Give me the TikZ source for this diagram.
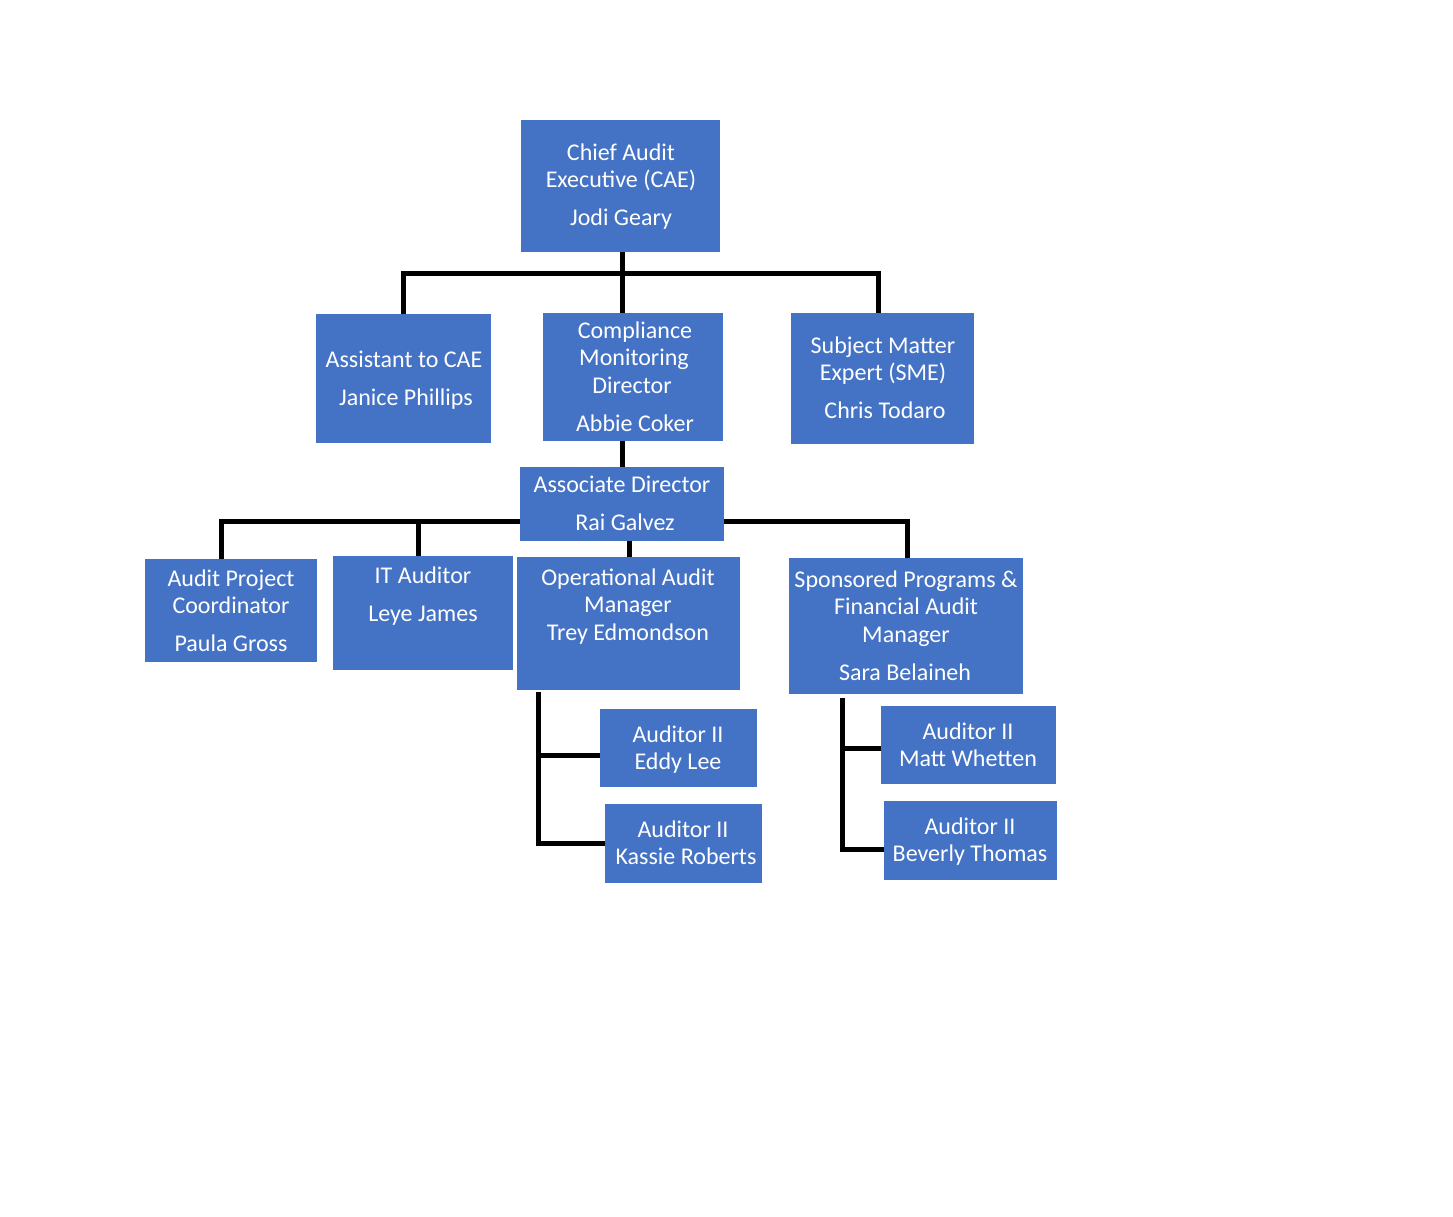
\documentclass[tikz,border=0pt]{standalone}
\usepackage{fontspec}
\setmainfont{Carlito}
\definecolor{boxblue}{HTML}{4472C4}
\tikzset{
  box/.style={fill=boxblue, draw=none, inner sep=0pt, outer sep=0pt},
  txt/.style={text=white, inner sep=0pt, anchor=base, font=\fontsize{12}{13.5}\selectfont},
  conn/.style={draw=black, line width=2.5pt, line join=miter}
}
\newcommand\tl[4]{\node[txt] (#1) at (#2,#3) {#4};}
\begin{document}
\begin{tikzpicture}[x=0.5pt,y=-0.5pt]
\useasboundingbox[fill=white] (0,0) rectangle (1453,1217);

% ---- junction coordinates
\coordinate (bus1) at (622,273);
\coordinate (bus2) at (629,521);
\coordinate (opsv) at (538,692);
\coordinate (sponv) at (842,698);

% ---- boxes
\node[box, minimum width=99.5pt, minimum height=66pt] (cae) at (620.5,186) {};
\node[box, minimum width=87.5pt, minimum height=64.5pt] (asst) at (403.5,378.5) {};
\node[box, minimum width=90pt, minimum height=64pt] (comp) at (633,377) {};
\node[box, minimum width=91.5pt, minimum height=65.5pt] (sme) at (882.5,378.5) {};
\node[box, minimum width=102pt, minimum height=37pt] (assoc) at (622,504) {};
\node[box, minimum width=86pt, minimum height=51.5pt] (apc) at (231,610.5) {};
\node[box, minimum width=90pt, minimum height=57pt] (it) at (423,613) {};
\node[box, minimum width=111.5pt, minimum height=66.5pt] (ops) at (628.5,623.5) {};
\node[box, minimum width=117pt, minimum height=68pt] (spon) at (906,626) {};
\node[box, minimum width=78.5pt, minimum height=39pt] (eddy) at (678.5,748) {};
\node[box, minimum width=78.5pt, minimum height=39.5pt] (kassie) at (683.5,843.5) {};
\node[box, minimum width=87.5pt, minimum height=39pt] (matt) at (968.5,745) {};
\node[box, minimum width=86.5pt, minimum height=39.5pt] (bev) at (970.5,840.5) {};

% ---- connectors
\draw[conn] (cae.south -| bus1) -- (bus1);
\draw[conn] ([xshift=-0.25pt]asst.north) |- (bus1) -| ([xshift=-2.25pt]sme.north);
\draw[conn] (bus1) -- (comp.north -| bus1);
\draw[conn] (assoc.north |- comp.south) -- (assoc.north);
\draw[conn] ([xshift=-5pt]apc.north) |- (assoc.west |- bus2);
\draw[conn] ([xshift=-2.5pt]it.north) -- ([xshift=-2.5pt]it.north |- bus2);
\draw[conn] ([xshift=0.5pt]spon.north) |- (assoc.east |- bus2);
\draw[conn] (ops.north -| bus2) -- (assoc.south -| bus2);
\draw[conn] (opsv) |- (kassie.west);
\draw[conn] ([yshift=-3.5pt]opsv |- eddy.west) -- ([yshift=-3.5pt]eddy.west);
\draw[conn] (sponv) |- ([yshift=-4.25pt]bev.west);
\draw[conn] ([yshift=-1.5pt]sponv |- matt.west) -- ([yshift=-1.5pt]matt.west);

% ---- texts
\tl{cae1}{621}{160}{Chief Audit}
\tl{cae2}{621}{187}{Executive (CAE)}
\tl{cae3}{621}{225}{Jodi Geary}
\tl{asst1}{404}{367}{Assistant to CAE}
\tl{asst2}{406}{405}{Janice Phillips}
\tl{comp1}{635}{338}{Compliance}
\tl{comp2}{634}{365}{Monitoring}
\tl{comp3}{632}{393}{Director}
\tl{comp4}{635}{431}{Abbie Coker}
\tl{sme1}{883}{353}{Subject Matter}
\tl{sme2}{883}{380}{Expert (SME)}
\tl{sme3}{885}{418}{Chris Todaro}
\tl{assoc1}{622}{492}{Associate Director}
\tl{assoc2}{625}{530}{Rai Galvez}
\tl{apc1}{231}{586}{Audit Project}
\tl{apc2}{231}{613}{Coordinator}
\tl{apc3}{231}{651}{Paula Gross}
\tl{it1}{423}{583}{IT Auditor}
\tl{it2}{423}{621}{Leye James}
\tl{ops1}{628}{585}{Operational Audit}
\tl{ops2}{628}{612}{Manager}
\tl{ops3}{628}{640}{Trey Edmondson}
\tl{spon1}{906}{587}{Sponsored Programs \&}
\tl{spon2}{906}{614}{Financial Audit}
\tl{spon3}{906}{642}{Manager}
\tl{spon4}{905}{680}{Sara Belaineh}
\tl{eddy1}{678}{742}{Auditor II}
\tl{eddy2}{678}{769}{Eddy Lee}
\tl{kassie1}{683}{837}{Auditor II}
\tl{kassie2}{686}{864}{Kassie Roberts}
\tl{matt1}{968}{739}{Auditor II}
\tl{matt2}{968}{766}{Matt Whetten}
\tl{bev1}{970}{834}{Auditor II}
\tl{bev2}{970}{861}{Beverly Thomas}
\end{tikzpicture}
\end{document}
